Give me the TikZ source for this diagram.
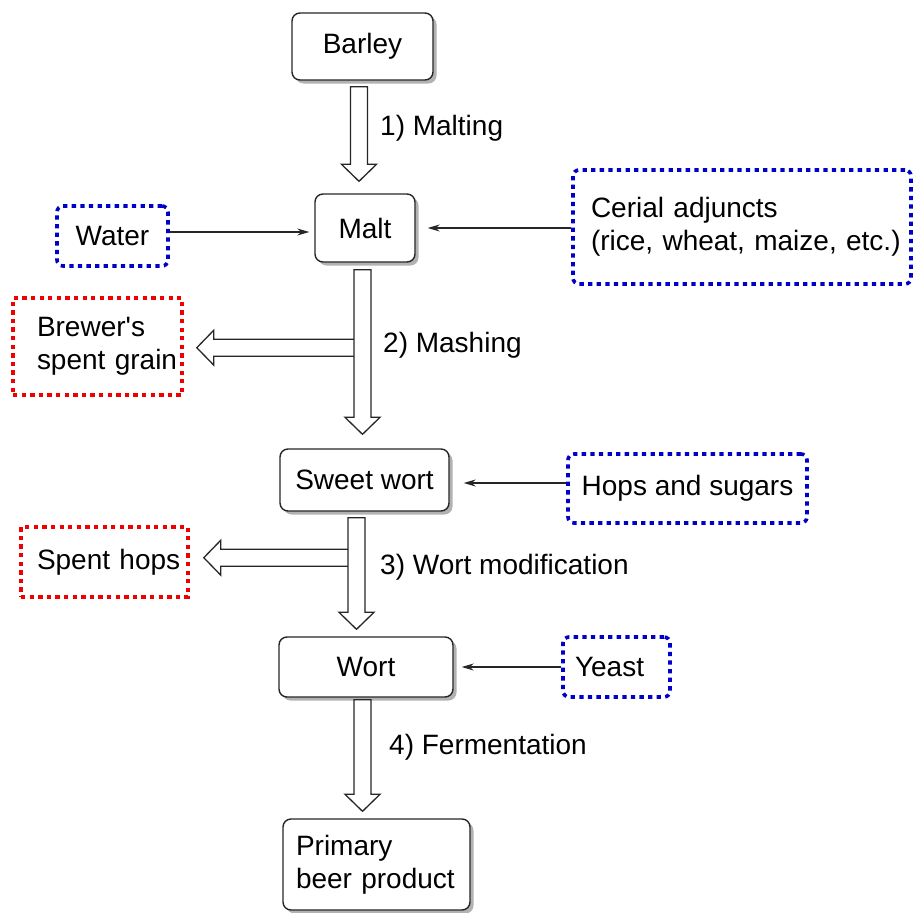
\documentclass[tikz,border=0pt]{standalone}
\usepackage{fontspec}
\newfontfamily\lsans{Liberation Sans}
\usetikzlibrary{shadows,arrows.meta,calc}
\definecolor{dotblue}{RGB}{0,0,200}
\definecolor{dotred}{RGB}{240,0,0}
\newcommand\blockdown[2]{\draw[blockar] ($(#1)+(-8.5,0)$) -- ($(#2)+(-8.5,-17)$) -- ($(#2)+(-17.5,-17)$) -- (#2) -- ($(#2)+(17.5,-17)$) -- ($(#2)+(8.5,-17)$) -- ($(#1)+(8.5,0)$) -- cycle;}
\newcommand\blockleft[2]{\draw[blockar] ($(#1)+(0,-8.5)$) -- ($(#2)+(17,-8.5)$) -- ($(#2)+(17,-17.5)$) -- (#2) -- ($(#2)+(17,17.5)$) -- ($(#2)+(17,8.5)$) -- ($(#1)+(0,8.5)$);}
\begin{document}
\begin{tikzpicture}[x=1pt,y=-1pt,
 every node/.style={font=\lsans\fontsize{28}{33}\selectfont, text=black, inner sep=0pt},
 procbox/.style={draw=black!85, line width=1.4pt, rounded corners=8pt, fill=white,
   drop shadow={shadow xshift=3.5pt, shadow yshift=-3.5pt, fill=black!30, opacity=1}},
 inbox/.style={draw=dotblue, line width=3.6pt, dash pattern=on 4.3pt off 4.3pt, rounded corners=6pt},
 outbox/.style={draw=dotred, line width=3.6pt, dash pattern=on 4.3pt off 4.3pt},
 blockar/.style={draw=black!85, line width=1.3pt, fill=white, line join=miter},
 thinar/.style={draw=black!85, line width=1.2pt, -{Stealth[length=12pt,width=7pt]}},
 steplabel/.style={anchor=west}
]
\useasboundingbox (0,0) rectangle (914,913);

% process boxes
\node[procbox, minimum width=141pt, minimum height=67pt] (barley) at (362.5,46.5) {Barley};
\node[procbox, minimum width=100pt, minimum height=68pt] (malt) at (365,228) {Malt};
\node[procbox, minimum width=169pt, minimum height=62pt] (sweet) at (364.5,480) {Sweet wort};
\node[procbox, minimum width=174pt, minimum height=60pt] (wort) at (366,667) {Wort};
\node[procbox, minimum width=187pt, minimum height=91pt, text width=161pt, align=left] (beer) at (376.5,864.5) {Primary\\beer product};

% inputs
\node[inbox, minimum width=111pt, minimum height=60pt] (water) at (112.5,236) {Water};
\node[inbox, minimum width=338pt, minimum height=114pt, text width=302pt, align=left] (cerial) at (742,227) {Cerial adjuncts\\\mbox{(rice, wheat, maize, etc.)}};
\node[inbox, minimum width=239pt, minimum height=69pt] (hops) at (687.5,488.5) {Hops and sugars};
\node[inbox, minimum width=107pt, minimum height=60pt, text width=83pt, align=left] (yeast) at (616.5,667) {Yeast};

% outputs
\node[outbox, minimum width=169pt, minimum height=97pt, text width=121pt, align=left] (bsg) at (97.5,346.5) {Brewer's\\\mbox{spent grain}};
\node[outbox, minimum width=167pt, minimum height=70pt, text width=135pt, align=left] (spenthops) at (104.5,562) {\mbox{Spent hops}};

% step labels
\node[steplabel] (l1) at (380,128) {1) Malting};
\node[steplabel] (l2) at (383,345) {2) Mashing};
\node[steplabel] (l3) at (380,567) {3) Wort modification};
\node[steplabel] (l4) at (389,747) {4) Fermentation};

% block arrow end points
\coordinate (a1s) at ($(barley.south)+(-3.5,6)$);
\coordinate (a1t) at ($(malt.north)+(-6,-12)$);
\coordinate (a2s) at ($(malt.south)+(-2.5,7)$);
\coordinate (a2t) at ($(sweet.north)+(-2,-14)$);
\coordinate (b2s) at ($(a2s)+(-8.5,78)$);
\coordinate (b2t) at ($(bsg.east |- b2s)+(13,0)$);
\coordinate (a3s) at ($(sweet.south)+(-8,6)$);
\coordinate (a3t) at ($(wort.north)+(-9.5,-7)$);
\coordinate (b3s) at ($(a3s)+(-8.5,40)$);
\coordinate (b3t) at ($(spenthops.east |- b3s)+(14,0)$);
\coordinate (a4s) at ($(wort.south)+(-3.5,2)$);
\coordinate (a4t) at ($(beer.north)+(-14,-7)$);

\blockleft{b2s}{b2t}
\blockdown{a2s}{a2t}
\blockleft{b3s}{b3t}
\blockdown{a3s}{a3t}
\blockdown{a1s}{a1t}
\blockdown{a4s}{a4t}

% thin input arrows
\draw[thinar] ($(water.east)+(0,-4)$) -- ($(malt.west)+(-5,4)$);
\draw[thinar] (cerial.west |- malt.east) -- ($(malt.east)+(12,0)$);
\draw[thinar] ($(hops.west)+(0,-5.5)$) -- ($(sweet.east)+(14,3)$);
\draw[thinar] (yeast.west) -- ($(wort.east)+(8,0)$);
\end{tikzpicture}
\end{document}
